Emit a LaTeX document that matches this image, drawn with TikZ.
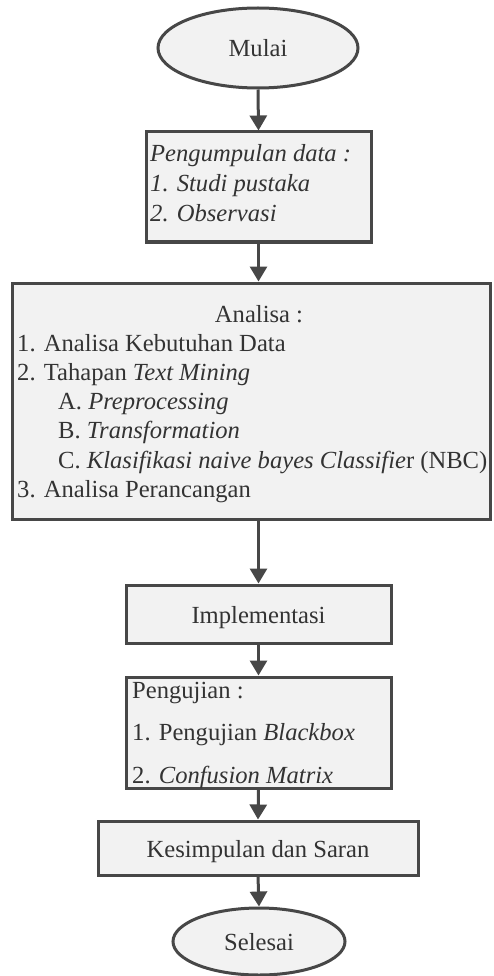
\documentclass[tikz,border=0pt]{standalone}
\usepackage{fontspec}
\setmainfont{Liberation Serif}
\usetikzlibrary{arrows.meta,shapes.geometric}
\definecolor{edge}{HTML}{474747}
\definecolor{boxfill}{HTML}{F2F2F2}
\definecolor{ink}{HTML}{333333}
\begin{document}
\begin{tikzpicture}[x=1pt,y=-1pt,
  box/.style={draw=edge, fill=boxfill, line width=3pt, inner sep=0pt, text=ink,
    font=\fontsize{24.6}{29}\selectfont, text height=18pt, text depth=0pt},
  oval/.style={ellipse, draw=edge, fill=boxfill, line width=3pt, inner sep=0pt, text=ink,
    font=\fontsize{24.6}{29}\selectfont, text height=18pt, text depth=0pt},
  txt/.style={text=ink, font=\fontsize{24.6}{29}\selectfont, inner sep=0pt, anchor=base west},
  arr/.style={draw=edge, line width=3pt, -{Triangle[length=15pt,width=17pt]}}]
\useasboundingbox[fill=white] (0,0) rectangle (493,976);

% shapes
\node[oval, minimum width=200pt, minimum height=80pt] (mulai) at (258,48) {Mulai};
\node[box, minimum width=225pt, minimum height=110pt] (kumpul) at (258.5,187) {};
\node[box, minimum width=478pt, minimum height=236pt] (analisa) at (251,401) {};
\node[box, minimum width=265pt, minimum height=58pt] (impl) at (258.5,614) {Implementasi};
\node[box, minimum width=265pt, minimum height=111pt] (uji) at (258.5,732.5) {};
\node[box, minimum width=320pt, minimum height=54pt] (simpul) at (258,848) {Kesimpulan dan Saran};
\node[oval, minimum width=172pt, minimum height=67pt] (selesai) at (259,941.5) {Selesai};

% texts of Pengumpulan data
\node[txt] (k1) at (150,162) {\itshape Pengumpulan data :};
\node[txt] (k2) at (150,192) {\itshape 1. Studi pustaka};
\node[txt] (k3) at (150,222) {\itshape 2. Observasi};

% texts of Analisa
\node[txt, anchor=base] (a0) at (259,322) {Analisa :};
\node[txt] (a1) at (17,351) {1. Analisa Kebutuhan Data};
\node[txt] (a2) at (17,380) {2. Tahapan \textit{Text Mining}};
\node[txt] (a3) at (58,409) {A. \textit{Preprocessing}};
\node[txt] (a4) at (58,438) {B. \textit{Transformation}};
\node[txt] (a5) at (58,468) {C. \textit{Klasifikasi naive bayes Classifie}r (NBC)};
\node[txt] (a6) at (17,497) {3. Analisa Perancangan};

% texts of Pengujian
\node[txt] (u1) at (132,698) {Pengujian :};
\node[txt] (u2) at (132,740) {1. Pengujian \textit{Blackbox}};
\node[txt] (u3) at (132,783) {2. \textit{Confusion Matrix}};

% connectors
\draw[arr] (mulai.south) -- (kumpul.north);
\draw[arr] (kumpul.south) -- (kumpul.south |- analisa.north);
\draw[arr] (impl.north |- analisa.south) -- (impl.north);
\draw[arr] (impl.south) -- (uji.north);
\draw[arr] (uji.south) -- (simpul.north);
\draw[arr] (simpul.south) -- (selesai.north);
\end{tikzpicture}
\end{document}
